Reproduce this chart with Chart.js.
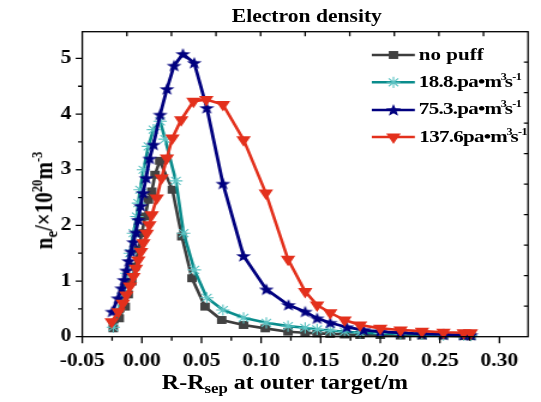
<!DOCTYPE html>
<html><head><meta charset="utf-8">
<script src="https://cdn.jsdelivr.net/npm/chart.js@4.4.0/dist/chart.umd.min.js"></script>
<style>
html,body{margin:0;padding:0;background:#fff;overflow:hidden;}
#wrap{position:absolute;left:0;top:0;width:451px;height:402px;transform:scaleX(1.19956);transform-origin:0 0;}
#c{position:absolute;left:0;top:0;width:451px;height:402px;}
.t{position:absolute;font-family:'Liberation Serif','Times New Roman',serif;font-weight:bold;color:#000;white-space:nowrap;line-height:1;}
.sp{position:relative;font-size:0.6em;top:-0.6em;}
.sb{position:relative;font-size:0.7em;top:0.3em;}
.ls{position:relative;font-size:0.58em;top:-0.65em;letter-spacing:-0.3px;}
.l3{margin-left:-0.5px;margin-right:-1.5px;}
.tight{letter-spacing:-0.6px;}
#yt{transform:rotate(-90deg);transform-origin:50% 50%;}
</style></head><body>
<div id="wrap">
<canvas id="c" width="451" height="402"></canvas>
<div class="t" id="title" style="font-size:18px;left:255.8px;top:6.9px;transform:translateX(-50%);">Electron density</div>
<div class="t" id="xt" style="font-size:20px;left:237.5px;top:372.3px;transform:translateX(-50%);">R-R<span class="sb">sep</span> at outer target/m</div>
<div class="t" id="yt" style="font-size:21px;">n<span class="sb">e</span>/×10<span class="sp">20</span>m<span class="sp">-3</span></div>
<div class="t" style="font-size:17.5px;left:349.2px;top:45.5px;">no puff</div>
<div class="t tight" style="font-size:17.5px;left:349.2px;top:72.5px;">18.8.pa•m<span class="ls l3">3</span>s<span class="ls">-1</span></div>
<div class="t tight" style="font-size:17.5px;left:349.2px;top:100px;">75.3.pa•m<span class="ls l3">3</span>s<span class="ls">-1</span></div>
<div class="t tight" style="font-size:17.5px;left:349.6px;top:127.5px;">137.6pa•m<span class="ls l3">3</span>s<span class="ls">-1</span></div>
</div>
<script>
// ---- data ----
const seriesNames = ['no puff', '18.8.pa•m3s-1', '75.3.pa•m3s-1', '137.6pa•m3s-1'];
const xTickLabels = ['-0.05','0.00','0.05','0.10','0.15','0.20','0.25','0.30'];
const yTickLabels = ['0','1','2','3','4','5'];

const xNoPuff = [-0.024,-0.019,-0.014,-0.0115,-0.0085,-0.0057,-0.0029,0.0,0.0027,0.0055,0.0083,0.011,0.0150,0.0256,0.0335,0.042,0.053,0.067,0.0853,0.1035,0.1226,0.137,0.147,0.158,0.170,0.183,0.200,0.217,0.235,0.253,0.270,0.276];
const yNoPuff = [0.15,0.33,0.54,0.76,0.99,1.26,1.56,1.86,2.16,2.46,2.61,2.91,3.16,2.64,1.80,1.05,0.54,0.30,0.21,0.15,0.09,0.07,0.06,0.05,0.04,0.03,0.03,0.02,0.02,0.02,0.01,0.01];

const x188 = [-0.024,-0.0197,-0.0155,-0.0127,-0.0099,-0.0071,-0.0043,-0.003,-0.0015,0.0013,0.0055,0.0097,0.0153,0.0195,0.0285,0.035,0.044,0.0545,0.068,0.0853,0.1044,0.1226,0.137,0.147,0.158,0.170,0.183,0.200,0.217,0.235,0.253,0.270,0.276];
const y188 = [0.17,0.48,0.78,1.14,1.50,1.86,2.16,2.40,2.64,3.00,3.42,3.72,3.87,3.55,2.80,1.86,1.20,0.70,0.48,0.34,0.25,0.19,0.16,0.13,0.11,0.09,0.07,0.06,0.05,0.04,0.03,0.03,0.02];

const x753 = [-0.025,-0.020,-0.017,-0.015,-0.013,-0.011,-0.009,-0.007,-0.005,-0.003,-0.001,0.001,0.0035,0.0065,0.0097,0.0153,0.021,0.027,0.0344,0.0439,0.0545,0.068,0.0853,0.1044,0.123,0.137,0.147,0.158,0.172,0.186,0.200,0.217,0.235,0.253,0.270,0.276];
const y753 = [0.45,0.69,0.87,1.02,1.19,1.36,1.53,1.70,1.87,2.10,2.35,2.58,2.85,3.20,3.45,3.99,4.45,4.87,5.08,4.92,4.11,2.75,1.45,0.85,0.57,0.45,0.33,0.25,0.17,0.12,0.09,0.07,0.05,0.04,0.03,0.03];

const x1376 = [-0.0253,-0.0197,-0.016,-0.013,-0.010,-0.0071,-0.005,-0.003,-0.0007,0.0013,0.0041,0.0063,0.0083,0.0125,0.0165,0.021,0.0256,0.033,0.0433,0.054,0.068,0.0853,0.1040,0.1226,0.137,0.147,0.158,0.170,0.183,0.200,0.217,0.235,0.253,0.270,0.276];
const y1376 = [0.27,0.45,0.60,0.75,0.91,1.08,1.23,1.38,1.53,1.69,1.86,2.01,2.19,2.49,2.85,3.21,3.57,3.90,4.23,4.26,4.17,3.54,2.58,1.39,0.81,0.57,0.43,0.30,0.21,0.15,0.12,0.10,0.08,0.07,0.07];

const pts = (xs, ys) => xs.map((v, i) => ({x: v, y: ys[i]}));

// filled five-point star marker
function makeStar(color){
  const c = document.createElement('canvas'); c.width = 14; c.height = 14;
  const g = c.getContext('2d'); g.fillStyle = color; g.beginPath();
  for (let i = 0; i < 10; i++) {
    const r = i % 2 === 0 ? 6.6 : 2.7; const a = -Math.PI/2 + i*Math.PI/5;
    const px = 7 + r*Math.cos(a), py = 7.5 + r*Math.sin(a);
    if (i === 0) g.moveTo(px, py); else g.lineTo(px, py);
  }
  g.closePath(); g.fill(); return c;
}
const starImg = makeStar('#00007f');

const FONT = "'Liberation Serif','Times New Roman',serif";
const styles = [
  {line:'#3d3d3d', fill:'#424242', border:'#424242', ps:'rect', r:5.6, rot:0, bw:0},
  {line:'#0a8c8c', fill:'rgba(0,0,0,0)', border:'#5cc3c3', ps:'star', r:5.6, rot:0, bw:1.1},
  {line:'#00007f', fill:'#00007f', border:'#00007f', ps:starImg, r:6, rot:0, bw:0},
  {line:'#e3301c', fill:'#e3301c', border:'#e3301c', ps:'triangle', r:7, rot:180, bw:0}
];
const dataSets = [pts(xNoPuff,yNoPuff), pts(x188,y188), pts(x753,y753), pts(x1376,y1376)];

const framePlugin = {
  id: 'frame',
  afterDraw(chart){
    const {ctx, chartArea: a, scales: {x, y}} = chart;
    ctx.save();
    ctx.strokeStyle = '#000'; ctx.lineWidth = 1.3;
    ctx.strokeRect(a.left, a.top, a.right - a.left, a.bottom - a.top);
    ctx.beginPath();
    for (let k = 0; k <= 15; k++) {
      const v = -0.05 + k*0.025; if (v > x.max + 1e-9) break;
      const px = x.getPixelForValue(v); const len = k % 2 === 0 ? 6.5 : 4;
      ctx.moveTo(px, a.bottom); ctx.lineTo(px, a.bottom + len);
    }
    for (let k = 0; k <= 11; k++) {
      const v = k*0.5; if (v > y.max + 1e-9) break;
      const py = y.getPixelForValue(v); const len = k % 2 === 0 ? 5.5 : 3.5;
      ctx.moveTo(a.left, py); ctx.lineTo(a.left - len, py);
    }
    for (let k = 1; k < 10; k++) {
      const px = a.left + (a.right - a.left)*k/10;
      ctx.moveTo(px, a.top); ctx.lineTo(px, a.top + 4.5);
      const py = a.top + (a.bottom - a.top)*k/10;
      ctx.moveTo(a.right, py); ctx.lineTo(a.right - 3.5, py);
    }
    ctx.stroke();
    // legend symbols
    const rows = [55, 82.3, 110, 137];
    styles.forEach((s, i) => {
      ctx.strokeStyle = s.line; ctx.lineWidth = 2.6;
      ctx.beginPath(); ctx.moveTo(310, rows[i]); ctx.lineTo(345.8, rows[i]); ctx.stroke();
      ctx.fillStyle = s.fill; ctx.strokeStyle = s.border; ctx.lineWidth = s.bw || 0.01;
      Chart.helpers.drawPoint(ctx, {pointStyle: s.ps, radius: s.r, rotation: s.rot, borderWidth: s.bw}, 328, rows[i]);
    });
    ctx.restore();
  }
};

new Chart(document.getElementById('c'), {
  type: 'line',
  data: {
    datasets: dataSets.map((d, i) => ({
      label: seriesNames[i], data: d,
      borderColor: styles[i].line, borderWidth: i === 2 ? 2.8 : 2.6,
      pointStyle: styles[i].ps, pointRadius: styles[i].r, pointRotation: styles[i].rot,
      pointBackgroundColor: styles[i].fill, pointBorderColor: styles[i].border,
      pointBorderWidth: styles[i].bw, tension: 0, fill: false, order: 4 - i, clip: false
    }))
  },
  options: {
    responsive: false, animation: false, devicePixelRatio: 1,
    layout: {padding: {left: 0, right: 10.8, top: 31.7, bottom: 0}},
    plugins: {legend: {display: false}, tooltip: {enabled: false}, title: {display: false}},
    scales: {
      x: {type: 'linear', min: -0.05, max: 0.324,
          grid: {display: false, drawTicks: false}, border: {display: false},
          ticks: {stepSize: 0.05, includeBounds: false, padding: 14, color: '#000', maxRotation: 0,
                  font: {family: FONT, size: 18, weight: 'bold'},
                  callback: v => xTickLabels[Math.round((v + 0.05)/0.05)] ?? ''},
          afterFit: s => { s.height = 65.3; }},
      y: {type: 'linear', min: 0, max: 5.48,
          grid: {display: false, drawTicks: false}, border: {display: false},
          ticks: {stepSize: 1, includeBounds: false, padding: 9, color: '#000',
                  font: {family: FONT, size: 18, weight: 'bold'},
                  callback: v => yTickLabels[Math.round(v)] ?? ''},
          afterFit: s => { s.width = 68.6; }}
    }
  },
  plugins: [framePlugin]
});

// y-axis title placement (rotated around its centre)
const yt = document.getElementById('yt');
const w = yt.offsetWidth, h = yt.offsetHeight;
yt.style.left = (37.1 - w/2) + 'px';
yt.style.top = (200 - h/2) + 'px';
</script>
</body></html>
